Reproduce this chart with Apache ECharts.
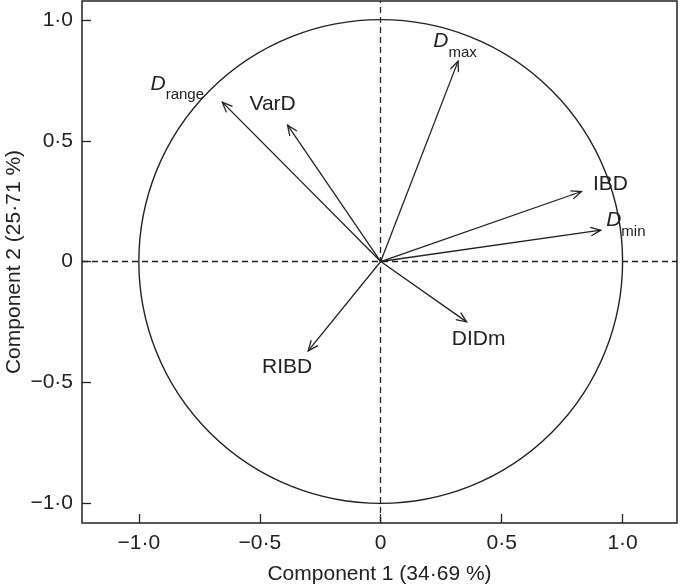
<!DOCTYPE html>
<html>
<head>
<meta charset="utf-8">
<script src="https://cdn.jsdelivr.net/npm/echarts@6/dist/echarts.min.js"></script>
<style>
  html, body { margin: 0; padding: 0; background: #fff; }
  #chart { width: 681px; height: 588px; }
</style>
</head>
<body>
<div id="chart"></div>
<script>
// loadings of each variable on the first two components
const variables = ['Dmax', 'Drange', 'VarD', 'IBD', 'Dmin', 'DIDm', 'RIBD'];
const comp1 = [0.32, -0.655, -0.385, 0.83, 0.91, 0.355, -0.30];
const comp2 = [0.83, 0.66, 0.565, 0.29, 0.13, -0.25, -0.37];
const tickValues = [-1, -0.5, 0, 0.5, 1];

const ink = '#222';
const font = '"Liberation Sans", Arial, Helvetica, sans-serif';

// subscripted names
const subs = { Dmax: 'max', Drange: 'range', Dmin: 'min' };
// label centre relative to the arrow tip, px
const labelOffset = {
  Dmax: [-3, -19],
  Drange: [-45, -18],
  VarD: [-15, -21],
  IBD: [29, -7],
  Dmin: [25, -9],
  DIDm: [12, 17],
  RIBD: [-21, 16]
};

function fmt(v) {
  if (v === 0) return '0';
  return v.toFixed(1).replace('.', '·').replace('-', '−');
}

function labelText(name) {
  if (subs[name]) return '{d|D}{s|' + subs[name] + '}';
  return '{n|' + name + '}';
}

function renderArrow(params, api) {
  const o = api.coord([0, 0]);
  const p = api.coord([api.value(0), api.value(1)]);
  const ang = Math.atan2(p[1] - o[1], p[0] - o[0]);
  const hl = 11, ha = 0.4;
  const h1 = [p[0] - hl * Math.cos(ang - ha), p[1] - hl * Math.sin(ang - ha)];
  const h2 = [p[0] - hl * Math.cos(ang + ha), p[1] - hl * Math.sin(ang + ha)];
  const name = variables[params.dataIndex];
  const off = labelOffset[name];
  return {
    type: 'group',
    children: [
      { type: 'line', shape: { x1: o[0], y1: o[1], x2: p[0], y2: p[1] },
        style: { stroke: ink, lineWidth: 1.3 } },
      { type: 'polyline', shape: { points: [h1, p, h2] },
        style: { stroke: ink, lineWidth: 1.3, fill: 'none' } },
      { type: 'text', x: p[0] + off[0], y: p[1] + off[1],
        style: {
          text: labelText(name),
          align: 'center',
          verticalAlign: 'middle',
          fill: ink,
          rich: {
            n: { fontSize: 21, fontFamily: font, color: ink },
            d: { fontSize: 21, fontFamily: font, fontStyle: 'italic', color: ink,
                 lineHeight: 22, verticalAlign: 'top' },
            s: { fontSize: 15, fontFamily: font, color: ink,
                 lineHeight: 14, padding: [14, 0, 0, 0], verticalAlign: 'top' }
          }
        } }
    ]
  };
}

function renderCircle(params, api) {
  const c = api.coord([api.value(0), api.value(1)]);
  const r = api.size([api.value(2), 0])[0];
  return {
    type: 'circle',
    shape: { cx: c[0], cy: c[1], r: r },
    style: { stroke: ink, lineWidth: 1.4, fill: 'none' }
  };
}

const chart = echarts.init(document.getElementById('chart'), null, { renderer: 'canvas' });

const axisCommon = {
  type: 'value',
  splitLine: { show: false },
  axisLine: { show: false, onZero: false },
  axisTick: { show: true, inside: true, length: 9, customValues: tickValues,
              lineStyle: { color: ink, width: 1.3 } },
  axisLabel: { customValues: tickValues, formatter: fmt, color: ink,
               fontSize: 21, fontFamily: font },
  nameLocation: 'middle',
  nameMoveOverlap: false,
  nameTextStyle: { color: ink, fontSize: 21, fontFamily: font }
};

chart.setOption({
  animation: false,
  grid: {
    left: 82, right: 4, top: 1, bottom: 65,
    containLabel: false,
    outerBoundsMode: 'none',
    show: true, borderColor: ink, borderWidth: 1.5, backgroundColor: 'transparent'
  },
  xAxis: Object.assign({}, axisCommon, {
    min: -1.235, max: 1.225,
    name: 'Component 1 (34·69 %)',
    nameGap: 41,
    axisLabel: Object.assign({}, axisCommon.axisLabel, { margin: 10 })
  }),
  yAxis: Object.assign({}, axisCommon, {
    min: -1.083, max: 1.079,
    name: 'Component 2 (25·71 %)',
    nameGap: 57,
    nameRotate: 90,
    axisLabel: Object.assign({}, axisCommon.axisLabel, { margin: 9 })
  }),
  series: [
    {
      type: 'custom',
      renderItem: renderCircle,
      data: [[0, 0, 1]],
      silent: true,
      markLine: {
        silent: true,
        symbol: 'none',
        label: { show: false },
        lineStyle: { color: ink, type: [6, 4], width: 1.3 },
        data: [{ xAxis: 0 }, { yAxis: 0 }]
      }
    },
    {
      type: 'custom',
      renderItem: renderArrow,
      data: variables.map((v, i) => [comp1[i], comp2[i]]),
      silent: true
    }
  ]
});
</script>
</body>
</html>
